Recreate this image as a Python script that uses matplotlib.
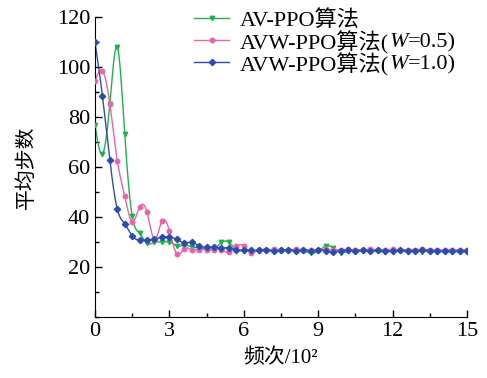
import numpy as np
import matplotlib.pyplot as plt
from matplotlib.lines import Line2D
from matplotlib.ticker import MultipleLocator

plt.rcParams['font.family'] = ['Liberation Serif', 'Noto Sans CJK SC']

# 频次（单位 10^2），每 30 次取一个点
episodes = np.arange(51) * 0.3

av_ppo = [76.8, 65.2, 85.3, 108.1, 73.1, 40.5, 33.5, 29.5, 29.9, 30.0,
          30.0, 28.5, 28.7, 28.1, 27.6, 27.2, 27.2, 29.9, 29.9, 27.1,
          26.5, 26.6, 26.5, 26.6, 26.4, 26.5, 26.6, 26.5, 26.4, 25.6,
          26.3, 28.4, 27.7, 25.8, 26.3, 26.4, 26.3, 26.4, 26.3, 26.2,
          26.3, 26.3, 26.2, 26.3, 26.2, 26.3, 26.2, 26.2, 26.1, 26.2, 26.2]

avw_ppo_05 = [94.5, 98.5, 85.3, 62.6, 48.4, 38.1, 44.0, 41.9, 31.0, 38.4,
              34.6, 25.2, 27.3, 27.0, 27.0, 27.0, 27.0, 27.0, 25.9, 28.4,
              28.4, 25.6, 26.9, 27.0, 27.1, 26.9, 27.0, 27.1, 27.0, 26.9,
              27.0, 27.1, 27.0, 27.0, 27.1, 26.9, 27.0, 27.1, 27.0, 27.0,
              27.1, 26.9, 27.0, 27.0, 27.1, 27.0, 26.9, 27.0, 27.0, 26.9, 27.0]

avw_ppo_10 = [110.0, 88.5, 62.8, 43.2, 37.3, 32.5, 30.7, 30.7, 31.2, 31.9,
              32.1, 31.1, 29.7, 30.0, 28.5, 28.0, 28.0, 27.7, 27.7, 27.0,
              26.8, 26.7, 26.8, 26.7, 26.6, 26.7, 26.8, 26.6, 26.7, 26.5,
              26.7, 26.6, 26.0, 26.6, 26.7, 26.6, 26.7, 26.6, 26.7, 26.6,
              26.6, 26.7, 26.6, 26.5, 26.7, 26.6, 26.3, 26.5, 26.4, 26.5, 26.5]

# 图例文字分段：(文字, 是否斜体)
labels = [
    [('AV-PPO算法', False)],
    [('AVW-PPO算法(', False), ('W', True), ('=0.5)', False)],
    [('AVW-PPO算法(', False), ('W', True), ('=1.0)', False)],
]


def smooth(x, y, n=1500):
    # 自然三次样条，只用于画平滑曲线
    x = np.asarray(x, float)
    y = np.asarray(y, float)
    m = len(x)
    h = np.diff(x)
    A = np.zeros((m, m))
    b = np.zeros(m)
    A[0, 0] = A[-1, -1] = 1
    for i in range(1, m - 1):
        A[i, i - 1] = h[i - 1]
        A[i, i] = 2 * (h[i - 1] + h[i])
        A[i, i + 1] = h[i]
        b[i] = 3 * ((y[i + 1] - y[i]) / h[i] - (y[i] - y[i - 1]) / h[i - 1])
    c = np.linalg.solve(A, b)
    xs = np.linspace(x[0], x[-1], n)
    k = np.clip(np.searchsorted(x, xs) - 1, 0, m - 2)
    dx = xs - x[k]
    bb = (y[k + 1] - y[k]) / h[k] - h[k] * (2 * c[k] + c[k + 1]) / 3
    d = (c[k + 1] - c[k]) / (3 * h[k])
    ys = y[k] + bb * dx + c[k] * dx ** 2 + d * dx ** 3
    return xs, ys


series = [
    (av_ppo, '#1fb24a', 'v'),
    (avw_ppo_05, '#e965a8', 'o'),
    (avw_ppo_10, '#2b4db0', 'D'),
]

W, H = 487, 378
fig = plt.figure(figsize=(W / 100, H / 100), dpi=100)
ax = fig.add_axes([0.195, 0.161, 0.764, 0.794])

for vals, color, mk in series:
    xs, ys = smooth(episodes, vals)
    ax.plot(xs, ys, color=color, lw=1.0, zorder=2)
    ax.plot(episodes, vals, ls='none', marker=mk, color=color, ms=3.2, zorder=3)

ax.set_xlim(0, 15)
ax.set_ylim(0, 120)
ax.set_xticks([0, 3, 6, 9, 12, 15])
ax.set_yticks([20, 40, 60, 80, 100, 120])
ax.xaxis.set_minor_locator(MultipleLocator(1.5))
ax.yaxis.set_minor_locator(MultipleLocator(10))
ax.tick_params(which='both', direction='in', labelsize=16, width=1.0)
ax.tick_params(which='major', length=5)
ax.tick_params(which='minor', length=3)
ax.spines['top'].set_visible(False)
ax.spines['right'].set_visible(False)

ax.set_xlabel('频次/10²', fontsize=15, labelpad=6)
ax.set_ylabel('平均步数', fontsize=15, labelpad=14)

# 手动画图例，W 需要斜体
renderer = fig.canvas.get_renderer()
row_y = [18, 40, 62]
for (vals, color, mk), parts, yc in zip(series, labels, row_y):
    yf = 1 - yc / H
    fig.add_artist(Line2D([194 / W, 229 / W], [yf, yf], color=color, lw=1.0,
                          transform=fig.transFigure))
    fig.add_artist(Line2D([212 / W], [yf], color=color, marker=mk, ms=3.2,
                          transform=fig.transFigure))
    x = 240
    for s, it in parts:
        t = fig.text(x / W, yf, s, fontsize=16, va='center_baseline',
                     style='italic' if it else 'normal')
        x = t.get_window_extent(renderer).x1

fig.savefig('out.png', dpi=100)
